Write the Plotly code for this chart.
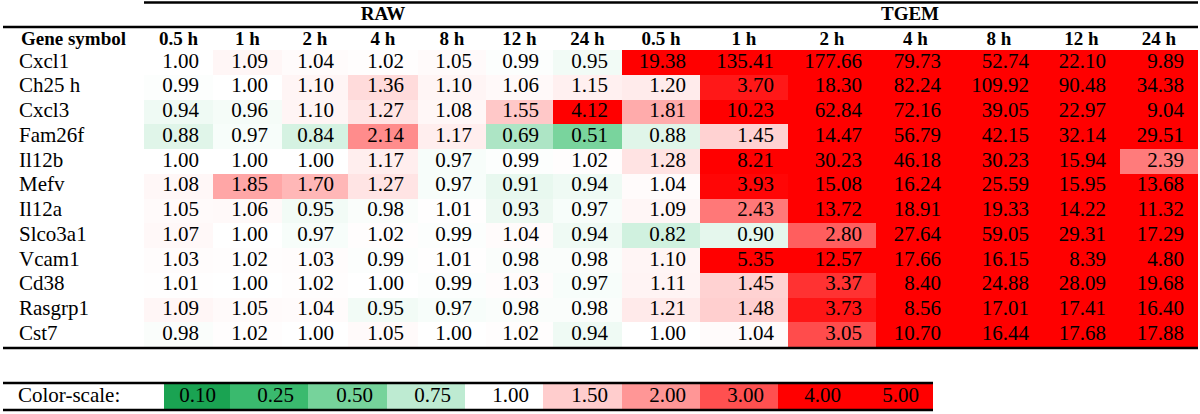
import plotly.graph_objects as go

# ---------------- data ----------------
genes = ["Cxcl1", "Ch25 h", "Cxcl3", "Fam26f", "Il12b", "Mefv", "Il12a",
         "Slco3a1", "Vcam1", "Cd38", "Rasgrp1", "Cst7"]
time_labels = ["0.5 h", "1 h", "2 h", "4 h", "8 h", "12 h", "24 h"]
groups = ["RAW", "TGEM"]
first_col_label = "Gene symbol"
scale_label = "Color-scale:"

raw = [
    [1.00, 1.09, 1.04, 1.02, 1.05, 0.99, 0.95],
    [0.99, 1.00, 1.10, 1.36, 1.10, 1.06, 1.15],
    [0.94, 0.96, 1.10, 1.27, 1.08, 1.55, 4.12],
    [0.88, 0.97, 0.84, 2.14, 1.17, 0.69, 0.51],
    [1.00, 1.00, 1.00, 1.17, 0.97, 0.99, 1.02],
    [1.08, 1.85, 1.70, 1.27, 0.97, 0.91, 0.94],
    [1.05, 1.06, 0.95, 0.98, 1.01, 0.93, 0.97],
    [1.07, 1.00, 0.97, 1.02, 0.99, 1.04, 0.94],
    [1.03, 1.02, 1.03, 0.99, 1.01, 0.98, 0.98],
    [1.01, 1.00, 1.02, 1.00, 0.99, 1.03, 0.97],
    [1.09, 1.05, 1.04, 0.95, 0.97, 0.98, 0.98],
    [0.98, 1.02, 1.00, 1.05, 1.00, 1.02, 0.94],
]
tgem = [
    [19.38, 135.41, 177.66, 79.73, 52.74, 22.10, 9.89],
    [1.20, 3.70, 18.30, 82.24, 109.92, 90.48, 34.38],
    [1.81, 10.23, 62.84, 72.16, 39.05, 22.97, 9.04],
    [0.88, 1.45, 14.47, 56.79, 42.15, 32.14, 29.51],
    [1.28, 8.21, 30.23, 46.18, 30.23, 15.94, 2.39],
    [1.04, 3.93, 15.08, 16.24, 25.59, 15.95, 13.68],
    [1.09, 2.43, 13.72, 18.91, 19.33, 14.22, 11.32],
    [0.82, 0.90, 2.80, 27.64, 59.05, 29.31, 17.29],
    [1.10, 5.35, 12.57, 17.66, 16.15, 8.39, 4.80],
    [1.11, 1.45, 3.37, 8.40, 24.88, 28.09, 19.68],
    [1.21, 1.48, 3.73, 8.56, 17.01, 17.41, 16.40],
    [1.00, 1.04, 3.05, 10.70, 16.44, 17.68, 17.88],
]
scale_values = [0.10, 0.25, 0.50, 0.75, 1.00, 1.50, 2.00, 3.00, 4.00, 5.00]

# ---------------- styles / layout ----------------
scale_colors = ["rgb(26,163,82)", "rgb(58,186,110)", "rgb(118,211,155)",
                "rgb(190,235,210)", "rgb(255,255,255)", "rgb(255,205,205)",
                "rgb(255,150,150)", "rgb(255,80,80)", "rgb(255,0,0)", "rgb(255,0,0)"]
zmin, zmax = scale_values[0], scale_values[-1]
colorscale = [[(v - zmin) / (zmax - zmin), c] for v, c in zip(scale_values, scale_colors)]

W, H = 1200, 414
col_edges = [144, 213, 282, 348, 418, 486, 553, 622, 700, 788, 876, 955, 1043, 1120, 1198]
row_top, row_h = 50, 24.75
row_edges = [row_top + i * row_h for i in range(len(genes) + 1)]
hdr_y, grp_y = 40, 15
leg_edges = [164, 230, 308, 387, 465, 543, 622, 700, 778, 855, 933]
leg_y0, leg_y1 = 384, 409
pad = 14
FONT = "Liberation Serif, Times New Roman, serif"
NUM_SIZE, HDR_SIZE = 21, 19

z = [r + t for r, t in zip(raw, tgem)]
n_cols = len(col_edges) - 1

fig = go.Figure()

fig.add_trace(go.Heatmap(
    z=z, x=col_edges, y=row_edges, colorscale=colorscale, zmin=zmin, zmax=zmax,
    showscale=False, hoverinfo="skip"))

fig.add_trace(go.Heatmap(
    z=[scale_values], x=leg_edges, y=[leg_y0, leg_y1], colorscale=colorscale,
    zmin=zmin, zmax=zmax, showscale=False, hoverinfo="skip"))

# numbers (right aligned)
xs, ys, ts = [], [], []
for i in range(len(genes)):
    yc = (row_edges[i] + row_edges[i + 1]) / 2
    for j in range(n_cols):
        xs.append(col_edges[j + 1] - pad)
        ys.append(yc)
        ts.append(f"{z[i][j]:.2f}")
fig.add_trace(go.Scatter(x=xs, y=ys, text=ts, mode="text", textposition="middle left",
                         textfont=dict(family=FONT, size=NUM_SIZE, color="#000"),
                         hoverinfo="skip"))

# gene names
fig.add_trace(go.Scatter(
    x=[19] * len(genes),
    y=[(row_edges[i] + row_edges[i + 1]) / 2 for i in range(len(genes))],
    text=genes, mode="text", textposition="middle right",
    textfont=dict(family=FONT, size=NUM_SIZE, color="#000"), hoverinfo="skip"))

# column headers
hdr_text = [f"<b>{first_col_label}</b>"] + [f"<b>{t}</b>" for t in time_labels * len(groups)]
hdr_x = [21] + [(col_edges[j] + col_edges[j + 1]) / 2 for j in range(n_cols)]
fig.add_trace(go.Scatter(
    x=hdr_x[:1], y=[hdr_y], text=hdr_text[:1], mode="text", textposition="middle right",
    textfont=dict(family=FONT, size=HDR_SIZE, color="#000"), hoverinfo="skip"))
fig.add_trace(go.Scatter(
    x=hdr_x[1:], y=[hdr_y] * n_cols, text=hdr_text[1:], mode="text", textposition="middle center",
    textfont=dict(family=FONT, size=HDR_SIZE, color="#000"), hoverinfo="skip"))

# group headers
nt = len(time_labels)
grp_x = [(col_edges[g * nt] + col_edges[(g + 1) * nt]) / 2 for g in range(len(groups))]
fig.add_trace(go.Scatter(
    x=grp_x, y=[grp_y] * len(groups), text=[f"<b>{g}</b>" for g in groups], mode="text",
    textposition="middle center", textfont=dict(family=FONT, size=HDR_SIZE, color="#000"),
    hoverinfo="skip"))

# legend label and numbers
fig.add_trace(go.Scatter(
    x=[18], y=[(leg_y0 + leg_y1) / 2], text=[scale_label], mode="text",
    textposition="middle right", textfont=dict(family=FONT, size=NUM_SIZE, color="#000"),
    hoverinfo="skip"))
fig.add_trace(go.Scatter(
    x=[leg_edges[k + 1] - pad for k in range(len(scale_values))],
    y=[(leg_y0 + leg_y1) / 2] * len(scale_values),
    text=[f"{v:.2f}" for v in scale_values], mode="text", textposition="middle left",
    textfont=dict(family=FONT, size=NUM_SIZE, color="#000"), hoverinfo="skip"))

# rule lines
lines = [
    (col_edges[0], col_edges[-1], 2.5),
    (3, col_edges[-1], 27),
    (3, col_edges[-1], row_edges[-1] + 1),
    (3, leg_edges[-1], leg_y0 - 1),
    (3, leg_edges[-1], leg_y1 + 1),
]
for x0, x1, yy in lines:
    fig.add_shape(type="line", x0=x0, x1=x1, y0=yy, y1=yy, xref="x", yref="y",
                  line=dict(color="#000", width=2.5))

fig.update_layout(
    width=W, height=H, autosize=False, margin=dict(l=0, r=0, t=0, b=0),
    paper_bgcolor="white", plot_bgcolor="white", showlegend=False,
    xaxis=dict(range=[0, W], visible=False, fixedrange=True),
    yaxis=dict(range=[H, 0], visible=False, fixedrange=True),
)
fig.write_html("out.html", config={"displayModeBar": False},
               post_script="document.body.style.margin='0';document.body.style.overflow='hidden';")
